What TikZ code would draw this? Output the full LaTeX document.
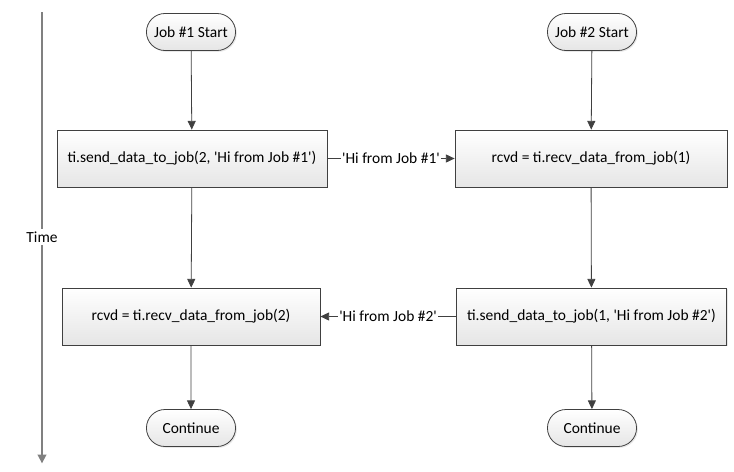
\documentclass[tikz,border=0pt]{standalone}
\usepackage{fontspec}
\setmainfont{Carlito}
\usetikzlibrary{positioning,arrows.meta,shapes.misc,shadows}
\newcommand{\sq}{\textquotesingle}

\begin{document}
\begin{tikzpicture}[x=0.75pt, y=-0.75pt, font=\fontsize{11.6pt}{13pt}\selectfont,
  every node/.style={text=black},
  flow/.style={draw=black!75, line width=0.6pt, top color=white, bottom color=black!10,
    drop shadow={opacity=0.18, shadow xshift=1pt, shadow yshift=-1pt}},
  term/.style={flow, rounded rectangle, minimum width=73.5pt, minimum height=27.75pt},
  proc/.style={flow, rectangle, minimum height=42.75pt},
  link/.style={draw=black!75, line width=0.6pt, -{Triangle[width=6pt, length=6.5pt]}},
  msg/.style={fill=white, inner sep=1pt}]
\useasboundingbox (0,0) rectangle (734,471);

% time axis
\coordinate (t0) at (42,12);
\coordinate (t1) at (42,462);
\draw[draw=black!50, line width=1.2pt, -{Triangle[width=6.5pt, length=6.5pt]}, shorten >=-1pt] (t0) -- node[fill=white, inner sep=2pt] (time) {Time} (t1);

% job 1
\node[term] (start1) at (191,32) {Job \#1 Start};
\node[proc, minimum width=202.5pt] (send1) at (192,158.5) {ti.send\_data\_to\_job(2, \sq Hi from Job \#1\sq)};
\node[proc, minimum width=193.5pt] (recv1) at (191,316.5) {rcvd = ti.recv\_data\_from\_job(2)};
\node[term] (cont1) at (191,428) {Continue};

% job 2
\node[term] (start2) at (592,32) {Job \#2 Start};
\node[proc, minimum width=204pt] (recv2) at (591,158.5) {rcvd = ti.recv\_data\_from\_job(1)};
\node[proc, minimum width=203pt] (send2) at (591.5,316.5) {ti.send\_data\_to\_job(1, \sq Hi from Job \#2\sq)};
\node[term] (cont2) at (592,428) {Continue};

\draw[link] (start1) -- (send1);
\draw[link] (send1) -- (recv1);
\draw[link] (recv1) -- (cont1);
\draw[link] (start2) -- (recv2);
\draw[link] (recv2) -- (send2);
\draw[link] (send2) -- (cont2);

% messages
\draw[link] (send1) -- node[msg] {\sq Hi from Job \#1\sq} (recv2);
\draw[link] (send2) -- node[msg] {\sq Hi from Job \#2\sq} (recv1);
\end{tikzpicture}
\end{document}
